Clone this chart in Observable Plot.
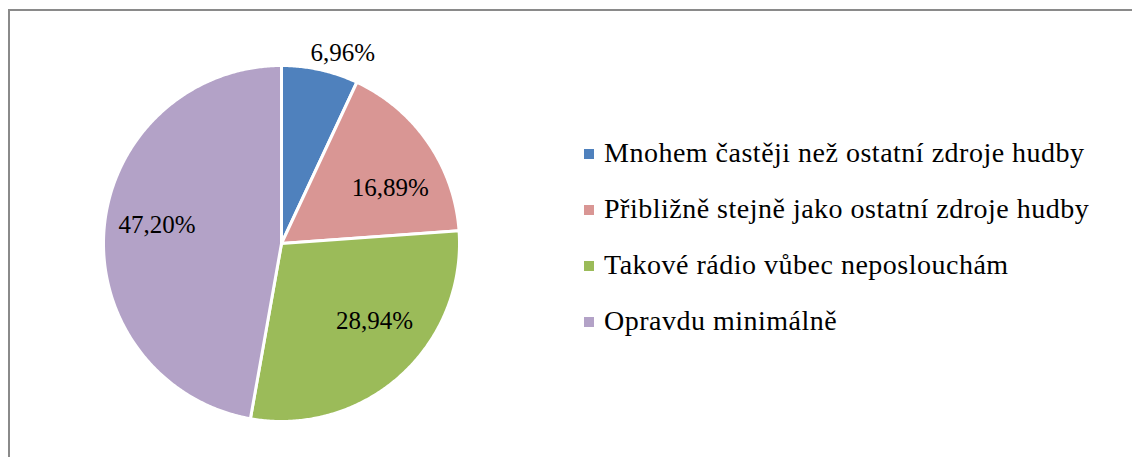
<!DOCTYPE html>
<html><head><meta charset="utf-8">
<script src="https://cdn.jsdelivr.net/npm/d3@7"></script>
<script src="https://cdn.jsdelivr.net/npm/@observablehq/plot@0.6"></script>
<style>
html,body{margin:0;padding:0;background:#fff;overflow:hidden;width:1132px;height:457px}
#wrap{position:relative;width:1132px;height:457px;font-family:"Liberation Serif","Times New Roman",serif;overflow:hidden}
#frame{position:absolute;left:8px;top:9px;width:1140px;height:470px;border:2px solid #8a8a8a;box-sizing:border-box}
#chart{position:absolute;left:0;top:0}
#legend{position:absolute;left:584px;top:0}
.row{position:absolute;left:0;white-space:nowrap;font-size:28px;line-height:28px;letter-spacing:0.5px;color:#000}
.sw{position:absolute;left:0;top:10px;width:10px;height:10px}
.lab{position:absolute;left:20px;top:0}
</style></head><body>
<div id="wrap"><div id="frame"></div><div id="chart"></div><div id="legend"></div></div>
<script>
const categories = [
  "Mnohem častěji než ostatní zdroje hudby",
  "Přibližně stejně jako ostatní zdroje hudby",
  "Takové rádio vůbec neposlouchám",
  "Opravdu minimálně"
];
const values = [6.96, 16.89, 28.94, 47.20];
const valueLabels = ["6,96%", "16,89%", "28,94%", "47,20%"];
const colors = ["#4F81BD", "#D99694", "#9BBB59", "#B3A2C7"];

const rows = categories.map((c, i) => ({key: c, value: values[i], label: valueLabels[i]}));
const arcs = d3.pie().sort(null).value(d => d.value)(rows);

// slice outlines (arc tessellation of each slice)
const pts = [];
for (const a of arcs) {
  pts.push({key: a.data.key, x: 0, y: 0});
  const n = Math.max(2, Math.ceil((a.endAngle - a.startAngle) / (Math.PI / 360)));
  for (let j = 0; j <= n; j++) {
    const t = a.startAngle + (a.endAngle - a.startAngle) * j / n;
    pts.push({key: a.data.key, x: Math.sin(t), y: Math.cos(t)});
  }
  pts.push({key: a.data.key, x: 0, y: 0});
}
function labelPos(k) {
  return arcs.map(a => {
    const m = (a.startAngle + a.endAngle) / 2;
    return {key: a.data.key, label: a.data.label, x: k * Math.sin(m), y: k * Math.cos(m)};
  });
}
const inner = labelPos(0.68);
const outer = labelPos(1.12);

const cx = 281, cy = 243, r = 178;
const font = "Liberation Serif, Times New Roman, serif";
const txt = (data, key, dx, dy) => Plot.text(data.filter(d => d.key === key), {
  x: "x", y: "y", text: "label", fontSize: 25, fontFamily: font, fill: "black",
  textAnchor: "middle", dx, dy
});

const chart = Plot.plot({
  width: 1132, height: 457,
  marginTop: 0, marginRight: 0, marginBottom: 0, marginLeft: 0,
  x: {domain: [-1, 1], range: [cx - r, cx + r], axis: null},
  y: {domain: [-1, 1], range: [cy + r, cy - r], axis: null},
  color: {domain: categories, range: colors},
  style: {background: "transparent", fontFamily: font},
  marks: [
    Plot.line(pts, {x: "x", y: "y", z: "key", fill: "key", stroke: "white", strokeWidth: 3, strokeLinejoin: "round"}),
    txt(outer, categories[0], 18, 4),
    txt(inner, categories[1], 9, 13),
    txt(inner, categories[2], 12, -12),
    txt(inner, categories[3], -4, -8)
  ]
});
document.getElementById("chart").appendChild(chart);

const color = chart.scale("color");
const leg = document.getElementById("legend");
categories.forEach((c, i) => {
  const row = document.createElement("div");
  row.className = "row";
  row.style.top = (138.5 + i * 56) + "px";
  const sw = document.createElement("span");
  sw.className = "sw";
  sw.style.background = color.apply(c);
  const lab = document.createElement("span");
  lab.className = "lab";
  lab.textContent = c;
  row.appendChild(sw); row.appendChild(lab);
  leg.appendChild(row);
});
</script>
</body></html>
